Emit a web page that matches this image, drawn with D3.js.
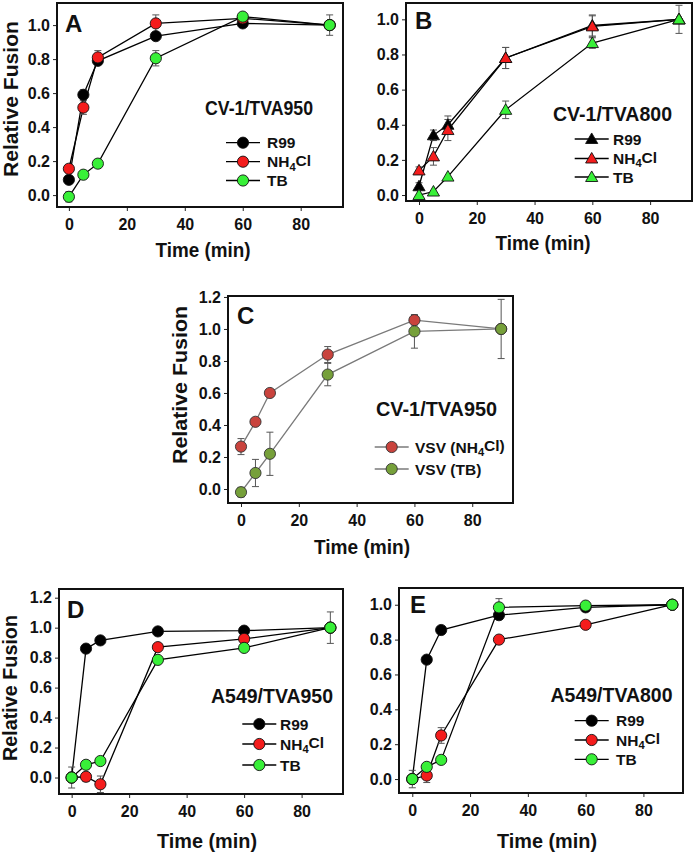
<!DOCTYPE html>
<html><head><meta charset="utf-8">
<script src="https://cdn.jsdelivr.net/npm/d3@7"></script>
<style>
body{margin:0;background:#fff}
text{font-family:"Liberation Sans",Arial,sans-serif;font-weight:bold;fill:#111}
</style>
</head><body>
<svg id="chart" width="693" height="855"></svg>
<script>
// ---------- data ----------
const times = [0, 5, 10, 30, 60, 90];
const xTickValues = [0, 20, 40, 60, 80];
const yTicksTo10 = [0, 0.2, 0.4, 0.6, 0.8, 1.0];
const yTicksTo12 = [0, 0.2, 0.4, 0.6, 0.8, 1.0, 1.2];
const seriesLabels = ["R99", "NH4Cl", "TB"];
const vsvLabels = ["VSV (NH4Cl)", "VSV (TB)"];
const panelTitles = ["CV-1/TVA950", "CV-1/TVA800", "CV-1/TVA950", "A549/TVA950", "A549/TVA800"];
const panelLetters = ["A", "B", "C", "D", "E"];
const xAxisTitle = "Time (min)";
const yAxisTitle = "Relative Fusion";

// Panel A: CV-1/TVA950
const aR99 = [0.09, 0.59, 0.79, 0.935, 1.01, 1.0];
const aR99Err = [0.02, 0.03, 0.02, 0.02, 0.02, 0.0];
const aNH4Cl = [0.155, 0.515, 0.81, 1.01, 1.04, 1.0];
const aNH4ClErr = [0.02, 0.04, 0.04, 0.05, 0.02, 0.0];
const aTB = [-0.01, 0.12, 0.185, 0.805, 1.05, 1.0];
const aTBErr = [0.03, 0.02, 0.02, 0.045, 0.02, 0.06];

// Panel B: CV-1/TVA800
const bR99 = [0.05, 0.34, 0.40, 0.78, 0.965, 1.0];
const bR99Err = [0.02, 0.03, 0.05, 0.06, 0.06, 0.0];
const bNH4Cl = [0.14, 0.22, 0.37, 0.78, 0.96, 1.0];
const bNH4ClErr = [0.02, 0.05, 0.06, 0.06, 0.06, 0.0];
const bTB = [0.0, 0.02, 0.105, 0.485, 0.865, 1.0];
const bTBErr = [0.01, 0.01, 0.01, 0.05, 0.03, 0.08];

// Panel C: VSV, CV-1/TVA950
const cNH4Cl = [0.265, 0.42, 0.60, 0.84, 1.055, 1.0];
const cNH4ClErr = [0.05, 0.01, 0.01, 0.05, 0.03, 0.0];
const cTB = [-0.02, 0.10, 0.22, 0.715, 0.985, 1.0];
const cTBErr = [0.03, 0.085, 0.135, 0.07, 0.105, 0.185];

// Panel D: A549/TVA950
const dR99 = [0.0, 0.86, 0.915, 0.975, 0.98, 1.0];
const dR99Err = [0.0, 0.01, 0.01, 0.01, 0.01, 0.0];
const dNH4Cl = [0.0, 0.005, -0.045, 0.87, 0.925, 1.0];
const dNH4ClErr = [0.0, 0.03, 0.055, 0.01, 0.01, 0.0];
const dTB = [0.0, 0.085, 0.11, 0.785, 0.865, 1.0];
const dTBErr = [0.07, 0.01, 0.01, 0.01, 0.01, 0.105];

// Panel E: A549/TVA800
const eR99 = [0.0, 0.685, 0.855, 0.94, 0.985, 1.0];
const eR99Err = [0.0, 0.01, 0.01, 0.01, 0.01, 0.0];
const eNH4Cl = [0.0, 0.02, 0.25, 0.80, 0.885, 1.0];
const eNH4ClErr = [0.0, 0.04, 0.045, 0.01, 0.01, 0.0];
const eTB = [0.0, 0.07, 0.11, 0.985, 0.995, 1.0];
const eTBErr = [0.05, 0.01, 0.01, 0.05, 0.01, 0.0];

// ---------- styles ----------
const colBlack = "#000000", colRed = "#f41c1c", colGreen = "#38f038";
const colVsvRed = "#c9433d", colVsvGreen = "#76a03a";

function mk(vals, errs, fill, label) {
  return {label, fill, pts: times.map((t, i) => ({x: t, y: vals[i], e: errs[i]}))};
}

const panels = [
  {letter: panelLetters[0], title: panelTitles[0], box: [57, 343, 3, 207], xDom: [-4.1, 94.6], yDom: [-0.07, 1.13], yTicks: yTicksTo10,
   shape: "circle", lineCol: "#000", series: [mk(aR99, aR99Err, colBlack, seriesLabels[0]), mk(aNH4Cl, aNH4ClErr, colRed, seriesLabels[1]), mk(aTB, aTBErr, colGreen, seriesLabels[2])],
   letterPos: [65, 32], titlePos: [205, 115, 108], legend: {mx: 243, tx: 267, rows: [142.7, 161.7, 180.5]},
   xTitle: [203, 257, 95], yTitle: [18, 99, 156]},
  {letter: panelLetters[1], title: panelTitles[1], box: [406, 692, 3, 201], xDom: [-4.5, 94.5], yDom: [-0.034, 1.093], yTicks: yTicksTo10,
   shape: "triangle", lineCol: "#000", series: [mk(bR99, bR99Err, colBlack, seriesLabels[0]), mk(bNH4Cl, bNH4ClErr, colRed, seriesLabels[1]), mk(bTB, bTBErr, colGreen, seriesLabels[2])],
   letterPos: [415, 29], titlePos: [553, 120.5, 119], legend: {mx: 591.7, tx: 613, rows: [139, 158.5, 177]},
   xTitle: [543, 250, 95], yTitle: null},
  {letter: panelLetters[2], title: panelTitles[2], box: [228, 513, 296, 503], xDom: [-4.5, 94.1], yDom: [-0.0875, 1.206], yTicks: yTicksTo12,
   shape: "circle", lineCol: "#7a7a7a", series: [mk(cNH4Cl, cNH4ClErr, colVsvRed, vsvLabels[0]), mk(cTB, cTBErr, colVsvGreen, vsvLabels[1])],
   letterPos: [237, 324], titlePos: [376, 416, 121], legend: {mx: 391.7, tx: 415, rows: [447, 469]},
   xTitle: [362, 554, 96], yTitle: [187, 385, 158]},
  {letter: panelLetters[3], title: panelTitles[3], box: [59, 343, 589, 794], xDom: [-4.4, 94.4], yDom: [-0.11, 1.258], yTicks: yTicksTo12,
   shape: "circle", lineCol: "#000", series: [mk(dR99, dR99Err, colBlack, seriesLabels[0]), mk(dNH4Cl, dNH4ClErr, colRed, seriesLabels[1]), mk(dTB, dTBErr, colGreen, seriesLabels[2])],
   letterPos: [67, 618], titlePos: [211, 702.5, 122], legend: {mx: 259.3, tx: 280, rows: [724, 744, 765]},
   xTitle: [207, 848, 100], yTitle: [17, 688, 146]},
  {letter: panelLetters[4], title: panelTitles[4], box: [399, 683, 588, 793], xDom: [-4.6, 93.7], yDom: [-0.08, 1.096], yTicks: yTicksTo10,
   shape: "circle", lineCol: "#000", series: [mk(eR99, eR99Err, colBlack, seriesLabels[0]), mk(eNH4Cl, eNH4ClErr, colRed, seriesLabels[1]), mk(eTB, eTBErr, colGreen, seriesLabels[2])],
   letterPos: [410, 613], titlePos: [550.5, 701.5, 122], legend: {mx: 591.7, tx: 616, rows: [720.7, 740, 759.3]},
   xTitle: [547, 848, 100], yTitle: null}
];

const svg = d3.select("#chart");
const fmt = d3.format(".1f");

function labelWithSub(sel, label) {
  const m = label.match(/^(.*NH)4(Cl.*)$/);
  if (m) {
    sel.append("tspan").text(m[1]);
    sel.append("tspan").attr("font-size", "0.72em").attr("dy", "0.3em").text("4");
    sel.append("tspan").attr("dy", "-0.3em").text(m[2]);
  } else sel.text(label);
}

function drawMarker(g, shape, cx, cy, fill, strokeCol) {
  if (shape === "circle") {
    g.append("circle").attr("cx", cx).attr("cy", cy).attr("r", 5.6)
      .attr("fill", fill).attr("stroke", strokeCol).attr("stroke-width", 0.9);
  } else {
    g.append("path").attr("d", d3.symbol(d3.symbolTriangle, 64)())
      .attr("transform", `translate(${cx},${cy + 1})`)
      .attr("fill", fill).attr("stroke", strokeCol).attr("stroke-width", 0.9);
  }
}

panels.forEach(p => {
  const [x0, x1, y0, y1] = p.box;
  const x = d3.scaleLinear().domain(p.xDom).range([x0, x1]);
  const y = d3.scaleLinear().domain(p.yDom).range([y1, y0]);
  const g = svg.append("g");

  const ya = g.append("g").attr("transform", `translate(${x0},0)`)
    .call(d3.axisLeft(y).tickValues(p.yTicks).tickFormat(fmt).tickSize(4).tickPadding(3));
  const xa = g.append("g").attr("transform", `translate(0,${y1})`)
    .call(d3.axisBottom(x).tickValues(xTickValues).tickFormat(d3.format("d")).tickSize(4).tickPadding(8));
  [ya, xa].forEach(a => {
    a.select(".domain").remove();
    a.selectAll("text").attr("font-size", 16).attr("fill", "#111");
    a.selectAll("line").attr("stroke", "#222").attr("stroke-width", 1);
  });
  ya.attr("font-family", null); xa.attr("font-family", null);

  const strokeCol = p.lineCol === "#000" ? "#111" : "#333";
  const line = d3.line().x(d => x(d.x)).y(d => y(d.y));
  p.series.forEach(s => {
    g.append("path").datum(s.pts).attr("d", line).attr("fill", "none")
      .attr("stroke", p.lineCol).attr("stroke-width", 1.3);
  });
  p.series.forEach(s => {
    s.pts.filter(d => d.e > 0.012).forEach(d => {
      const cx = x(d.x), ya1 = y(d.y + d.e), ya2 = y(d.y - d.e);
      const eg = g.append("g").attr("stroke", "#555").attr("stroke-width", 1);
      eg.append("line").attr("x1", cx).attr("x2", cx).attr("y1", ya1).attr("y2", ya2);
      eg.append("line").attr("x1", cx - 3.5).attr("x2", cx + 3.5).attr("y1", ya1).attr("y2", ya1);
      eg.append("line").attr("x1", cx - 3.5).attr("x2", cx + 3.5).attr("y1", ya2).attr("y2", ya2);
    });
  });
  p.series.forEach(s => {
    s.pts.forEach(d => drawMarker(g, p.shape, x(d.x), y(d.y), s.fill, strokeCol));
  });

  g.append("rect").attr("x", x0).attr("y", y0).attr("width", x1 - x0).attr("height", y1 - y0)
    .attr("fill", "none").attr("stroke", "#111").attr("stroke-width", 2);

  g.append("text").attr("x", p.letterPos[0]).attr("y", p.letterPos[1]).attr("font-size", 24).text(p.letter);
  g.append("text").attr("x", p.titlePos[0]).attr("y", p.titlePos[1]).attr("font-size", 20)
    .attr("textLength", p.titlePos[2]).attr("lengthAdjust", "spacingAndGlyphs").text(p.title);

  p.series.forEach((s, i) => {
    const ry = p.legend.rows[i];
    g.append("line").attr("x1", p.legend.mx - 17).attr("x2", p.legend.mx + 17).attr("y1", ry).attr("y2", ry)
      .attr("stroke", p.lineCol).attr("stroke-width", 1.3);
    drawMarker(g, p.shape, p.legend.mx, ry, s.fill, strokeCol);
    const t = g.append("text").attr("x", p.legend.tx).attr("y", ry + 5.5).attr("font-size", 15.5);
    labelWithSub(t, s.label);
  });

  g.append("text").attr("x", p.xTitle[0]).attr("y", p.xTitle[1]).attr("text-anchor", "middle")
    .attr("font-size", 20).attr("textLength", p.xTitle[2]).attr("lengthAdjust", "spacingAndGlyphs").text(xAxisTitle);
  if (p.yTitle) {
    g.append("text").attr("transform", `translate(${p.yTitle[0]},${p.yTitle[1]}) rotate(-90)`)
      .attr("text-anchor", "middle").attr("font-size", 20)
      .attr("textLength", p.yTitle[2]).attr("lengthAdjust", "spacingAndGlyphs").text(yAxisTitle);
  }
});
</script>
</body></html>
